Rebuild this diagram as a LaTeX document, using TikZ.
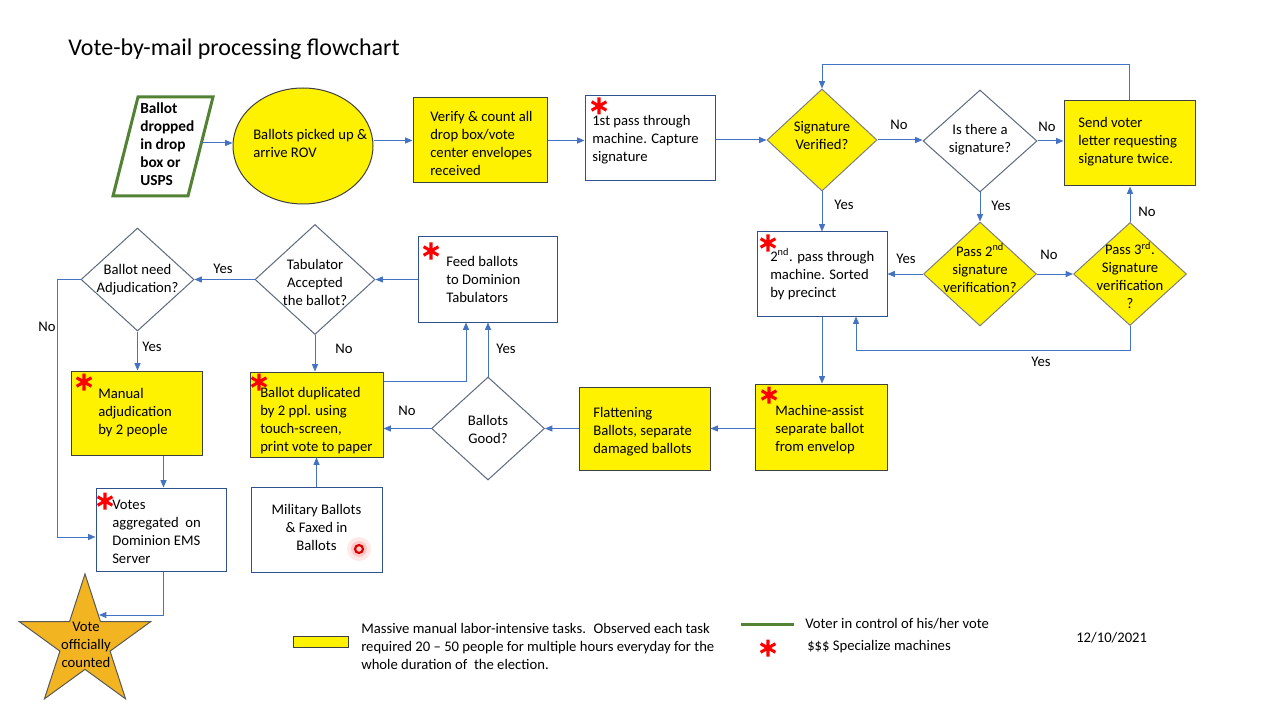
\documentclass[tikz,border=0pt]{standalone}
\usepackage{fontspec}
\setmainfont{Carlito}
\usetikzlibrary{shapes.geometric,arrows.meta,calc}
\definecolor{arrblue}{HTML}{4472C4}
\definecolor{boxblue}{HTML}{2F528F}
\definecolor{diagray}{HTML}{5E6A80}
\definecolor{ydgray}{HTML}{7F7F7F}
\definecolor{ydark}{HTML}{404040}
\definecolor{grn}{HTML}{548235}
\definecolor{gold}{RGB}{242,180,33}
\definecolor{stargray}{HTML}{595959}
\definecolor{astred}{HTML}{FF0000}
\tikzset{redast/.pic={\draw[astred, line width=2.3pt] (0,-8.5)--(0,8.5) (-7.4,-4.25)--(7.4,4.25) (-7.4,4.25)--(7.4,-4.25);}}
\begin{document}
\begin{tikzpicture}[x=0.75pt,y=-0.75pt,
  sz/.style 2 args={minimum width=#1*0.75pt,minimum height=#2*0.75pt},
  shp/.style={inner sep=0pt, line width=0.75pt},
  ybox/.style={shp, rectangle, fill=yellow, draw=ydark},
  wbox/.style={shp, rectangle, fill=white, draw=boxblue},
  ydia/.style={shp, diamond, fill=yellow, draw=ydgray},
  wdia/.style={shp, diamond, fill=white, draw=diagray},
  txt/.style={inner sep=0pt, align=left, anchor=west, font=\fontsize{11}{13.5}\selectfont},
  ctxt/.style={inner sep=0pt, align=center, font=\fontsize{11}{13.5}\selectfont},
  lbl/.style={inner sep=0pt, font=\fontsize{11}{13.5}\selectfont},
  arr/.style={draw=arrblue, line width=0.75pt, -{Triangle[length=5.5pt,width=4.5pt]}}
]
\fill[white] (0,0) rectangle (1280,720);
\useasboundingbox (0,0) rectangle (1280,720);

% title
\node[lbl, anchor=west, font=\fontsize{18}{22}\selectfont] (title) at (68,49) {Vote-by-mail processing flowchart};

% start parallelogram
\draw[grn, line width=2.25pt, fill=white] (138,97) -- (213,97) -- (188,196) -- (113,196) -- cycle;
\node[txt, font=\bfseries\fontsize{11.5}{13.5}\selectfont] (dropT) at (140,144) {Ballot\\dropped\\in drop\\box or\\USPS};
\coordinate (dropE) at (201,143);

\node[shp, ellipse, fill=yellow, draw=ydark, sz={140}{116}] (rov) at (303,146) {};
\node[txt] (rovT) at (253,143) {Ballots picked up \&\\arrive ROV};

\node[ybox, sz={134}{85}] (verify) at (480,140.5) {};
\node[txt] (verifyT) at (430,143) {Verify \& count all\\drop box/vote\\center envelopes\\received};

\node[wbox, sz={130}{85}] (pass1) at (650,138.5) {};
\node[txt] (pass1T) at (592,140) {1st pass through\\machine. Capture\\signature};

\node[ydia, sz={110}{102}] (sigv) at (822,140) {};
\node[ctxt] (sigvT) at (822,136) {Signature\\Verified?};

\node[wdia, sz={114}{102}] (ist) at (980,141) {};
\node[ctxt] (istT) at (980,140) {Is there a\\signature?};

\node[ybox, sz={131}{85}] (send) at (1129.5,143.5) {};
\node[txt] (sendT) at (1078,142) {Send voter\\letter requesting\\signature twice.};

\node[wbox, sz={130}{84}] (pass2) at (822,274) {};
\node[txt] (pass2T) at (770,274) {2\textsuperscript{nd}. pass through\\machine. Sorted\\by precinct};

\node[ydia, sz={113}{104}] (p2d) at (980,274) {};
\node[ctxt] (p2dT) at (980,268) {Pass 2\textsuperscript{nd}\\signature\\verification?};

\node[ydia, sz={113}{103}] (p3d) at (1130,274) {};
\node[ctxt] (p3dT) at (1130,275.5) {Pass 3\textsuperscript{rd}.\\Signature\\verification\\?};

\node[ybox, sz={132}{86}] (machine) at (821,427) {};
\node[txt] (machineT) at (775,430) {Machine-assist\\separate ballot\\from envelop};

\node[ybox, sz={131}{83}] (flat) at (644.5,428.5) {};
\node[txt] (flatT) at (593,431.5) {Flattening\\Ballots, separate\\damaged ballots};

\node[wdia, sz={113}{103}] (good) at (488,428.5) {};
\node[ctxt] (goodT) at (488,429) {Ballots\\Good?};

\node[ybox, sz={133}{85}] (dup) at (316.5,414.5) {};
\node[txt] (dupT) at (260,420.5) {Ballot duplicated\\by 2 ppl. using\\touch-screen,\\print vote to paper};

\node[wbox, sz={131}{85}] (mil) at (316.5,529.5) {};
\node[ctxt] (milT) at (316.5,527) {Military Ballots\\\& Faxed in\\Ballots};

\node[wbox, sz={139}{85}] (feed) at (487.5,279.5) {};
\node[txt] (feedT) at (446,279.5) {Feed ballots\\to Dominion\\Tabulators};

\node[wdia, sz={120}{110}] (tab) at (315,279.5) {};
\node[ctxt] (tabT) at (315,282) {Tabulator\\Accepted\\the ballot?};

\node[wdia, sz={113}{103}] (adj) at (137.5,279.5) {};
\node[ctxt] (adjT) at (137.5,280) {Ballot need\\Adjudication?};

\node[ybox, sz={131}{84}] (manual) at (136.5,413) {};
\node[txt] (manualT) at (98,413) {Manual\\adjudication\\by 2 people};

\node[wbox, sz={130}{83}] (votes) at (161,529.5) {};
\node[txt] (votesT) at (112,531.5) {Votes\\aggregated~ on\\Dominion EMS\\Server};

\node[shp, star, star points=5, star point ratio=2.618, fill=gold, draw=stargray, minimum size=138*0.75pt] (star) at (85,643) {};
\node[ctxt] (starT) at (86,645) {Vote\\officially\\counted};
\coordinate (starIn) at (99,615);

% red machine markers
\pic (a1) at (599,106) {redast};
\pic (a2) at (768,243) {redast};
\pic (a3) at (431,251) {redast};
\pic (a4) at (769,395) {redast};
\pic (a5) at (259,382) {redast};
\pic (a6) at (84,382) {redast};
\pic (a7) at (105,501) {redast};

% glow dot
\fill[red!60, opacity=0.15] (359,549) circle[radius=9pt];
\fill[red!70, opacity=0.2] (359,549) circle[radius=6pt];
\draw[red!85!black, line width=1.6pt] (359,549) circle[radius=3pt];

% connectors
\draw[arr] (dropE) -- (dropE -| rov.west);
\draw[arr] (rov.east |- verify.west) -- (verify.west);
\draw[arr] (verify.east) -- (verify.east -| pass1.west);
\draw[arr] (pass1.east |- sigv.west) -- (sigv.west);
\draw[arr] (sigv.east) -- (sigv.east -| ist.west);
\draw[arr] (ist.east) -- (ist.east -| send.west);
\draw[arr] (send.north) -- ++(0,-36) -| (sigv.north);
\draw[arr] (sigv.south) -- (sigv.south |- pass2.north);
\draw[arr] (ist.south) -- (ist.south |- p2d.north);
\draw[arr] (p2d.west) -- (p2d.west -| pass2.east);
\draw[arr] (p2d.east) -- (p3d.west);
\draw[arr] (p3d.north) -- (p3d.north |- send.south);
\draw[arr] (p3d.south) -- ++(0,24) -| ($(pass2.south)+(34,0)$);
\draw[arr] (pass2.south) -- (pass2.south |- machine.north);
\draw[arr] (flat.east -| machine.west) -- (flat.east);
\draw[arr] (flat.west) -- (good.east);
\draw[arr] (good.west) -- (good.west -| dup.east);
\draw[arr] (good.north) -- (good.north |- feed.south);
\draw[arr] ($(dup.north east)+(0,10)$) -| ($(feed.south)+(-21.5,0)$);
\draw[arr] (mil.north) -- (mil.north |- dup.south);
\draw[arr] (feed.west) -- (feed.west -| tab.east);
\draw[arr] (tab.west) -- (tab.west -| adj.east);
\draw[arr] (tab.south) -- (tab.south |- dup.north);
\draw[arr] (adj.south) -- (adj.south |- manual.north);
\draw[arr] (adj.west) -- ++(-23,0) |- ($(votes.west)+(0,7.5)$);
\draw[arr] ($(manual.south)+(27,0)$) coordinate (mv) -- (mv |- votes.north);
\draw[arr] ($(votes.south)+(2,0)$) |- (starIn);

% connector labels
\node[lbl] (l1) at (899,125) {No};
\node[lbl] (l2) at (1047,127) {No};
\node[lbl] (l3) at (844,205) {Yes};
\node[lbl] (l4) at (1001,206) {Yes};
\node[lbl] (l5) at (906,259) {Yes};
\node[lbl] (l6) at (1049,255) {No};
\node[lbl] (l7) at (1147,212) {No};
\node[lbl] (l8) at (1041,362) {Yes};
\node[lbl] (l9) at (407,411) {No};
\node[lbl] (l10) at (506,349) {Yes};
\node[lbl] (l11) at (223,269) {Yes};
\node[lbl] (l12) at (344,349) {No};
\node[lbl] (l13) at (152,347) {Yes};
\node[lbl] (l14) at (47,327) {No};

% legend
\node[ybox, sz={55}{11}] (legY) at (320.5,641.5) {};
\node[txt] (legT) at (361,646) {Massive manual labor-intensive tasks.~ Observed each task\\required 20 -- 50 people for multiple hours everyday for the\\whole duration of~ the election.};
\draw[grn, line width=2.25pt] (741,624) -- (794,624);
\node[txt] (legVT) at (805,624) {Voter in control of his/her vote};
\pic (a8) at (768,648) {redast};
\node[txt] (legST) at (807,647) {\$\$\$ Specialize machines};
\node[txt] (date) at (1076,638) {12/10/2021};
\end{tikzpicture}
\end{document}
